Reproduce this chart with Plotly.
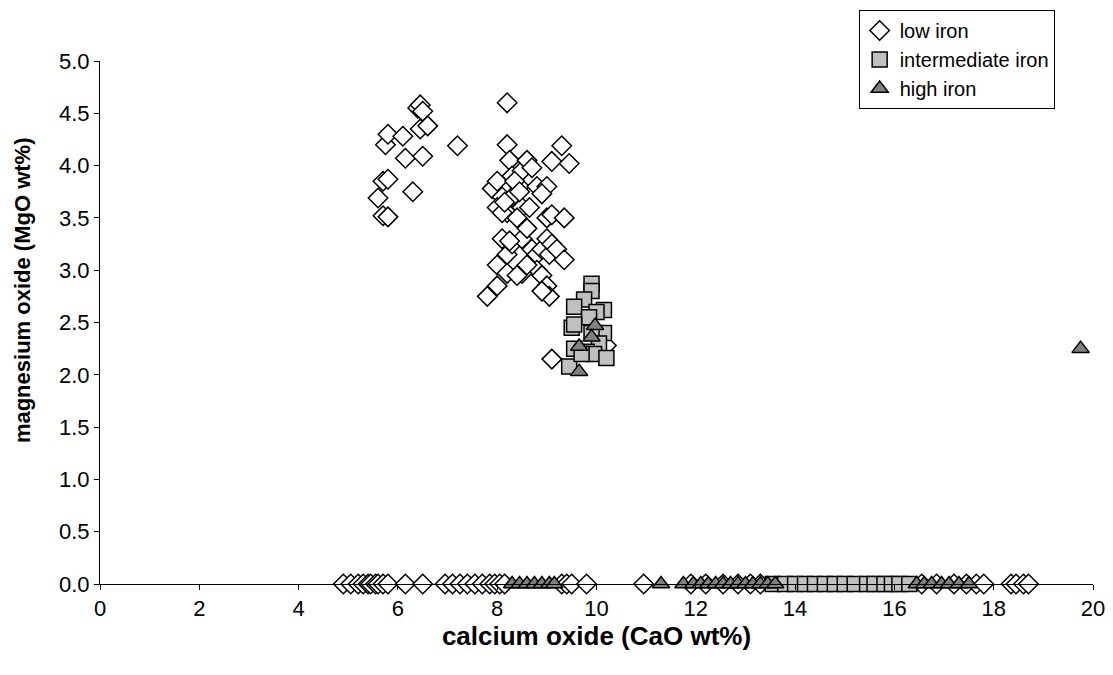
import plotly.graph_objects as go

# ---- data ----
low_x = [5.6, 5.7, 5.75, 5.8, 5.7, 5.8, 5.8, 6.1, 6.15, 6.3, 6.4, 6.45, 6.5, 6.45, 6.6, 6.5, 7.2,
         8.2, 8.2, 9.3, 9.1, 9.45, 8.25, 8.3, 8.5, 8.6, 8.45, 8.7, 7.9, 8.0, 8.1, 8.2, 8.3, 8.35,
         8.5, 8.0, 8.1, 8.4, 8.8, 9.0, 8.9, 9.0, 9.1, 9.35, 8.1, 8.2, 8.3, 8.0, 8.2, 8.5, 8.6,
         8.7, 8.8, 8.8, 8.9, 9.0, 9.05, 9.1, 9.2, 9.35, 8.5, 8.6, 8.9, 9.0, 9.05, 8.9, 7.8, 8.0,
         8.4, 9.1, 10.2, 8.15, 8.45, 8.25, 8.65]
low_y = [3.69, 3.85, 4.2, 4.3, 3.52, 3.51, 3.87, 4.28, 4.07, 3.75, 4.55, 4.58, 4.52, 4.35, 4.38, 4.09, 4.19,
         4.6, 4.2, 4.19, 4.04, 4.02, 4.05, 3.9, 3.95, 4.05, 3.8, 3.98, 3.78, 3.85, 3.7, 3.55, 3.7, 3.85,
         3.6, 3.6, 3.55, 3.5, 3.8, 3.8, 3.73, 3.5, 3.53, 3.5, 3.3, 3.15, 3.25, 3.05, 2.97, 3.3, 3.4,
         3.2, 3.15, 3.0, 3.2, 3.3, 3.15, 3.25, 3.2, 3.1, 2.97, 3.05, 2.95, 2.85, 2.75, 2.8, 2.75, 2.85,
         2.95, 2.15, 2.28, 3.65, 3.75, 3.28, 3.6]
low_zero_x = [4.9, 5.05, 5.2, 5.3, 5.4, 5.45, 5.55, 5.6, 5.7, 5.8, 6.15, 6.5, 6.95, 7.1, 7.25, 7.4,
              7.55, 7.7, 7.85, 7.95, 8.05, 8.15, 9.3, 9.4, 9.5, 9.8, 10.95, 11.9, 12.2, 12.55, 12.85,
              13.1, 13.3, 16.55, 16.85, 17.2, 17.45, 17.65, 17.8, 18.35, 18.45, 18.6, 18.7]

mid_x = [9.9, 9.9, 9.75, 9.55, 10.15, 10.0, 9.85, 10.15, 9.5, 9.55, 9.9, 10.05, 9.8, 9.55, 9.95, 10.2, 9.45, 9.7]
mid_y = [2.87, 2.8, 2.72, 2.65, 2.62, 2.6, 2.55, 2.4, 2.45, 2.48, 2.4, 2.3, 2.22, 2.25, 2.2, 2.16, 2.08, 2.2]
mid_zero_x = [13.55, 13.8, 14.0, 14.2, 14.4, 14.6, 14.8, 15.0, 15.2, 15.45, 15.6, 15.8, 15.95, 16.1, 16.3]

high_x = [9.65, 9.97, 9.9, 9.65, 19.75]
high_y = [2.27, 2.47, 2.36, 2.03, 2.25]
high_zero_x = [8.3, 8.45, 8.6, 8.75, 8.9, 9.05, 9.15, 11.3, 11.75, 11.95, 12.1, 12.25, 12.4, 12.55,
               12.7, 12.85, 13.0, 13.15, 13.3, 13.45, 13.6, 16.45, 16.6, 16.75, 16.95, 17.1, 17.3, 17.5]

x_title = "calcium oxide (CaO wt%)"
y_title = "magnesium oxide (MgO wt%)"

fig = go.Figure()
fig.add_trace(go.Scatter(
    x=low_x + low_zero_x, y=low_y + [0.0] * len(low_zero_x),
    mode="markers", name="low iron", cliponaxis=False,
    marker=dict(symbol="diamond", size=15, color="white", line=dict(color="black", width=1.5))))
fig.add_trace(go.Scatter(
    x=mid_x + mid_zero_x, y=mid_y + [0.0] * len(mid_zero_x),
    mode="markers", name="intermediate iron", cliponaxis=False,
    marker=dict(symbol="square", size=15, color="#C0C0C0", line=dict(color="black", width=1.5))))
fig.add_trace(go.Scatter(
    x=high_x + high_zero_x, y=high_y + [0.0] * len(high_zero_x),
    mode="markers", name="high iron", cliponaxis=False,
    marker=dict(symbol="triangle-up", size=15, color="#808080", line=dict(color="black", width=1.5))))

fig.update_layout(
    width=1105, height=667,
    paper_bgcolor="white", plot_bgcolor="white",
    margin=dict(l=92, r=20, t=53, b=91, autoexpand=False),
    font=dict(family="Liberation Sans, Arial, sans-serif", size=22, color="black"),
    showlegend=True,
    legend=dict(x=0.764, y=1.0975, xanchor="left", yanchor="top",
                bordercolor="black", borderwidth=1, bgcolor="white",
                font=dict(size=20), itemwidth=30, tracegroupgap=0),
    xaxis=dict(range=[0, 20], dtick=2, showgrid=False, zeroline=False,
               showline=True, linecolor="black", linewidth=1,
               ticks="outside", ticklen=5, tickcolor="black", automargin=False,
               title=dict(text="<b>" + x_title + "</b>", standoff=6)),
    yaxis=dict(range=[0, 5], dtick=0.5, tickformat=".1f", showgrid=False, zeroline=False,
               showline=True, linecolor="black", linewidth=1,
               ticks="outside", ticklen=5, tickcolor="black", automargin=False),
    annotations=[dict(text="<b>" + y_title + "</b>", xref="paper", yref="paper",
                      x=-0.0785, y=0.562, xanchor="center", yanchor="middle",
                      textangle=-90, showarrow=False, font=dict(size=22))],
)

fig.write_html("out.html")
